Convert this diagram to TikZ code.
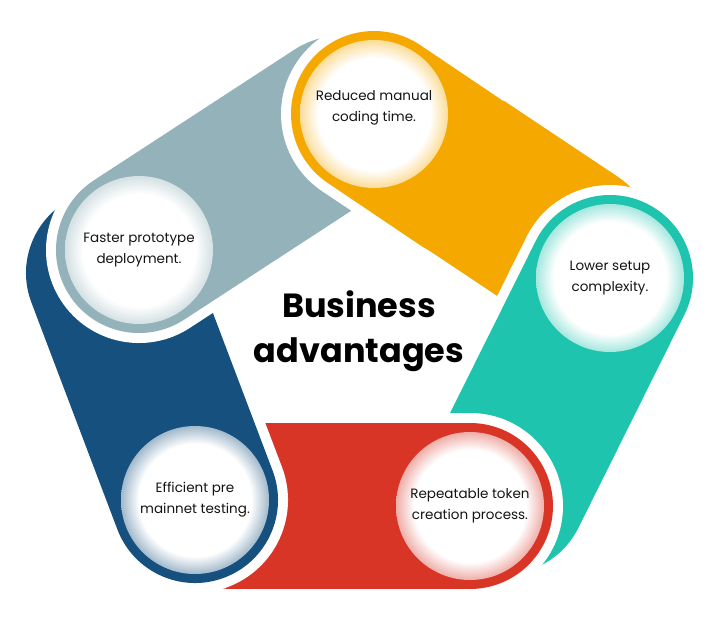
\documentclass[tikz,border=0pt]{standalone}
\usepackage{fontspec}
\setmainfont{Poppins}
\usepackage{xcolor}
\usepackage{tikz}
\usetikzlibrary{positioning}
\definecolor{bandorange}{RGB}{245,169,0}
\definecolor{bandteal}{RGB}{31,196,175}
\definecolor{bandred}{RGB}{216,53,39}
\definecolor{bandnavy}{RGB}{22,80,126}
\definecolor{bandgrey}{RGB}{147,178,185}
\definecolor{textdark}{RGB}{20,20,20}
\colorlet{glowtint}{white}
\pgfdeclareradialshading[glowtint]{glow}{\pgfpoint{0bp}{0bp}}{color(0bp)=(white); color(19bp)=(white); color(25bp)=(glowtint); color(50bp)=(glowtint)}
\tikzset{
  gapline/.style={
    white,
    line width=186pt,
    line cap=round
  },
  bandline/.style={
    line width=166pt,
    line cap=round
  },
  disc/.style={
    circle,
    minimum size=148pt,
    inner sep=0pt,
    shading=glow
  },
  disctext/.style={
    align=center,
    text=textdark,
    font=\fontsize{13.5}{21}\selectfont
  },
  headline/.style={
    align=center,
    text=black,
    font=\bfseries\fontsize{33.5}{45}\selectfont
  }
}

\begin{document}
\begin{tikzpicture}[x=1pt, y=-1pt]
\useasboundingbox (0,0) rectangle (720,622);
% heads and tails of the five bands
\coordinate (hO) at (374,114); \coordinate (tO) at (572,246);
\coordinate (hT) at (610,278); \coordinate (tT) at (504,491);
\coordinate (hR) at (470,506); \coordinate (tR) at (232,506);
\coordinate (hN) at (195,500); \coordinate (tN) at (109,273);
\coordinate (hG) at (139,250); \coordinate (tG) at (340,119);
\coordinate (sO) at (466,176);

\draw[bandline, bandorange] (hO) -- (tO);
\draw[gapline] (hT) -- (tT);
\draw[bandline, bandteal] (hT) -- (tT);
\draw[gapline] (hR) -- (tR);
\draw[bandline, bandred] (hR) -- (tR);
\draw[gapline] (hN) -- (tN);
\draw[bandline, bandnavy] (hN) -- (tN);
\draw[gapline] (hG) -- (tG);
\draw[bandline, bandgrey] (hG) -- (tG);
% orange head goes over the grey tail
\begin{scope}
\clip (hO) circle[radius=130pt];
\draw[gapline] (hO) -- (tO);
\end{scope}
\draw[bandline, bandorange] (hO) -- (sO);

\colorlet{glowtint}{bandorange!40!white}
\node[disc] (dO) at (hO) {};
\colorlet{glowtint}{bandteal!40!white}
\node[disc] (dT) at (hT) {};
\colorlet{glowtint}{bandred!40!white}
\node[disc] (dR) at (hR) {};
\colorlet{glowtint}{bandnavy!40!white}
\node[disc] (dN) at (hN) {};
\colorlet{glowtint}{bandgrey!40!white}
\node[disc] (dG) at (hG) {};

\node[disctext] (lO) at ([yshift=6pt]dO.center) {Reduced manual\\coding time.};
\node[disctext] (lT) at (dT) {Lower setup\\complexity.};
\node[disctext] (lR) at (dR) {Repeatable token\\creation process.};
\node[disctext] (lN) at (dN) {Efficient pre\\mainnet testing.};
\node[disctext] (lG) at (dG) {Faster prototype\\deployment.};

\node[headline] (title) at (359,331) {Business\\advantages};
\end{tikzpicture}
\end{document}
